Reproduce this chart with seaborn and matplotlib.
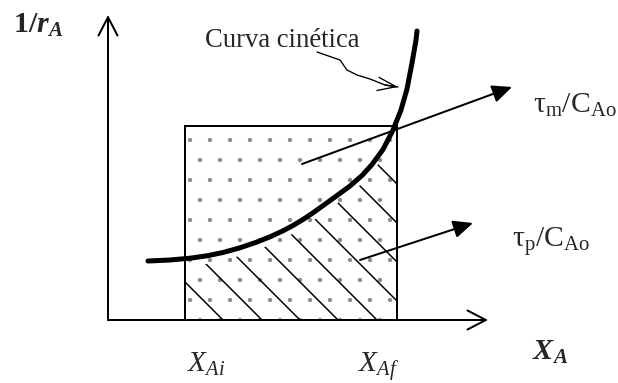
import matplotlib
matplotlib.use("Agg")
import numpy as np
import matplotlib.pyplot as plt
import seaborn as sns
from matplotlib.patches import Rectangle, Polygon, FancyArrowPatch

# --------------------------------
# DATA (axis origin = (0, 0))
# --------------------------------

conv_x = [0.40, 0.62, 0.82, 0.99, 1.15, 1.32, 1.49, 1.62, 1.75, 1.85,
          1.95, 2.04, 2.12, 2.27, 2.42, 2.54, 2.64, 2.75, 2.85, 2.93,
          2.99, 3.04, 3.08, 3.09]
inv_rate = [0.590, 0.600, 0.618, 0.642, 0.675, 0.722, 0.780, 0.832, 0.892, 0.945,
            1.005, 1.065, 1.122, 1.230, 1.340, 1.445, 1.555, 1.705, 1.900, 2.100,
            2.310, 2.570, 2.800, 2.890]

x_ai = 0.77
x_af = 2.89
rect_top = 1.94

# where the diagonal hatch lines cut the X axis
hatch_x = [1.15, 1.54, 1.92, 2.30, 2.69, 3.08, 3.47, 3.86, 4.25]

# wavy pointer from the "Curva cinética" label
wave_x = [2.09, 2.32, 2.39, 2.49, 2.62, 2.77, 2.90]
wave_y = [2.68, 2.60, 2.50, 2.45, 2.41, 2.35, 2.33]

# --------------------------------
# FIGURE
# --------------------------------

sns.set_style("white")
plt.rcParams["font.family"] = ["Liberation Serif", "DejaVu Serif"]
plt.rcParams["mathtext.fontset"] = "custom"
plt.rcParams["mathtext.rm"] = "Liberation Serif"
plt.rcParams["mathtext.it"] = "Liberation Serif:italic"
plt.rcParams["mathtext.bf"] = "Liberation Serif:bold"
plt.rcParams["mathtext.bfit"] = "Liberation Serif:bold:italic"
plt.rcParams["mathtext.default"] = "regular"
plt.rcParams["hatch.linewidth"] = 0.2

fig = plt.figure(figsize=(618 / 120, 383 / 120), dpi=120)
ax = fig.add_axes([0, 0, 1, 1])
ax.set_xlim(-1.08, 5.10)
ax.set_ylim(-0.63, 3.20)
ax.axis("off")

# dotted rectangle
ax.add_patch(Rectangle((x_ai, 0), x_af - x_ai, rect_top,
                       fill=False, hatch=".", edgecolor="#8a8a8a", lw=0))
ax.add_patch(Rectangle((x_ai, 0), x_af - x_ai, rect_top,
                       fill=False, edgecolor="black", lw=1.2, zorder=3))

# diagonal lines under the curve
clip = Polygon(list(zip(conv_x, np.array(inv_rate) - 0.08))
               + [(conv_x[-1], -1), (conv_x[0], -1)],
               closed=True, transform=ax.transData)
for b in hatch_x:
    x0 = max(x_ai, b - rect_top)
    x1 = min(x_af, b)
    if x0 < x1:
        ln, = ax.plot([x0, x1], [b - x0, b - x1], color="black", lw=0.9)
        ln.set_clip_path(clip)

# kinetic curve
sns.lineplot(x=conv_x, y=inv_rate, sort=False, color="black",
             lw=3, ax=ax, zorder=5, solid_joinstyle="round")

# axes with open arrow heads
for start, end in [((0, 0), (0, 3.05)), ((0, 0), (3.80, 0))]:
    ax.add_patch(FancyArrowPatch(start, end,
                                 arrowstyle="->,head_length=11,head_width=5.7",
                                 mutation_scale=1, lw=1.2, color="black",
                                 shrinkA=0, shrinkB=0, zorder=4))

# pointer arrows to the labels
for start, end in [((1.94, 1.56), (4.04, 2.33)), ((2.52, 0.60), (3.65, 0.97))]:
    ax.add_patch(FancyArrowPatch(start, end,
                                 arrowstyle="-|>,head_length=10,head_width=4.5",
                                 mutation_scale=1, lw=1.2, color="black",
                                 shrinkA=0, shrinkB=0, zorder=6))

# wavy pointer
ax.plot(wave_x, wave_y, color="black", lw=0.8, solid_joinstyle="round")
ax.add_patch(FancyArrowPatch((wave_x[-2], wave_y[-2]), (wave_x[-1], wave_y[-1]),
                             arrowstyle="->,head_length=11,head_width=4",
                             mutation_scale=1, lw=0.8, color="black",
                             shrinkA=0, shrinkB=0))

# --------------------------------
# TEXT
# --------------------------------

ax.text(-0.95, 2.87, r"$\mathbf{1/}\mathbfit{r}_{\mathbfit{A}}$", fontsize=18,
        ha="left", va="baseline")
ax.text(0.97, 2.73, "Curva cinética", fontsize=16, ha="left", va="baseline")
ax.text(4.25, 2.07, r"$\tau_{m}/C_{Ao}$", fontsize=17.8, ha="left", va="baseline")
ax.text(4.04, 0.73, r"$\tau_{p}/C_{Ao}$", fontsize=17.8, ha="left", va="baseline")
ax.text(0.79, -0.52, r"$\mathit{X}_{\mathit{Ai}}$", fontsize=17.5, ha="left", va="baseline")
ax.text(2.50, -0.52, r"$\mathit{X}_{\mathit{Af}}$", fontsize=17.5, ha="left", va="baseline")
ax.text(4.24, -0.40, r"$\mathbfit{X}_{\mathbfit{A}}$", fontsize=18, ha="left", va="baseline")

plt.savefig("out.png", dpi=120)
